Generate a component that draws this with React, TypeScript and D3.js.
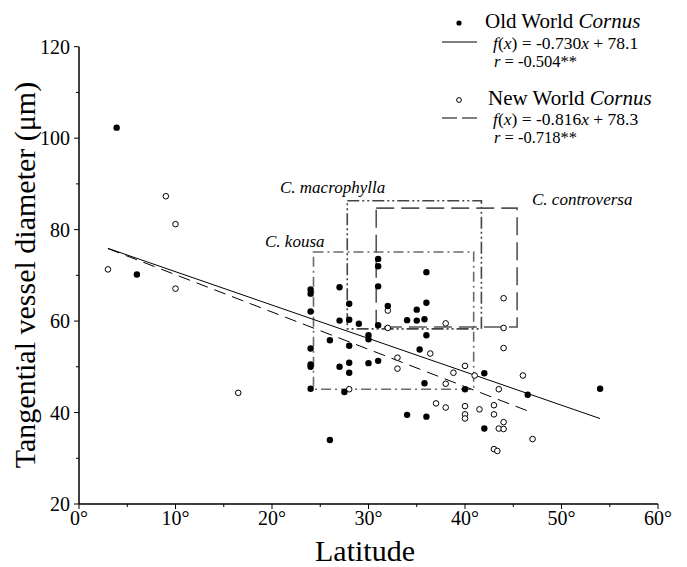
import React from "react";
import * as d3 from "d3";

// Old World Cornus (filled): [latitude, vessel diameter]
const oldLat = [3.9, 6, 24, 24, 24, 24, 24, 24, 24, 26, 26, 27, 27, 27, 27.5, 28, 28, 28, 28, 28, 29, 30, 30, 30, 31, 31, 31, 31, 31, 32, 34, 34, 35, 35, 35.3, 35.8, 35.8, 36, 36, 36, 36, 40, 42, 42, 46.5, 54];
const oldVal = [102.3, 70.2, 66.9, 66.0, 62.1, 54.0, 50.5, 50.0, 45.2, 55.8, 34.0, 67.4, 60.1, 50.0, 44.5, 63.8, 60.3, 54.6, 50.9, 48.7, 59.4, 56.9, 56.0, 50.8, 73.6, 72.0, 67.6, 59.1, 51.3, 63.3, 60.2, 39.5, 62.5, 60.1, 53.8, 60.4, 46.4, 70.7, 64.0, 56.9, 39.1, 45.1, 48.6, 36.5, 43.9, 45.2];

// New World Cornus (open)
const newLat = [3, 9, 10, 10, 16.5, 28, 32, 32, 33, 33, 36.4, 37, 38, 38, 38, 38.8, 40, 40, 40, 40, 41, 41.5, 43, 43, 43, 43.35, 43.5, 43.5, 44, 44, 44, 44, 44, 46, 47];
const newVal = [71.3, 87.3, 81.2, 67.1, 44.3, 45.1, 62.3, 58.5, 52.0, 49.6, 52.9, 42.0, 59.5, 46.3, 41.1, 48.7, 50.2, 41.4, 39.6, 38.7, 48.1, 40.7, 41.6, 39.6, 32.0, 31.6, 45.1, 36.5, 65.0, 58.5, 54.1, 37.9, 36.4, 48.1, 34.2];

// regressions
const oldFit = { slope: -0.730, intercept: 78.1, from: 3, to: 54 };
const newFit = { slope: -0.816, intercept: 78.3, from: 3, to: 47 };

// species ranges
const boxNames = ["C. kousa", "C. macrophylla", "C. controversa"];
const boxLat = [[24.3, 40.9], [27.8, 41.7], [30.8, 45.4]];
const boxVal = [[45.1, 75.1], [58.3, 86.3], [58.7, 84.7]];

const xTicks = [0, 10, 20, 30, 40, 50, 60];
const xMinor = [5, 15, 25, 35, 45, 55];
const yTicks = [20, 40, 60, 80, 100, 120];
const yMinor = [30, 50, 70, 90, 110];

const W = 687, H = 567;
const serif = "'Liberation Serif', 'DejaVu Serif', serif";

export default function App() {
  const x = d3.scaleLinear().domain([0, 60]).range([79, 658]);
  const y = d3.scaleLinear().domain([20, 120]).range([504, 46.7]);

  const boxStyles = [
    { stroke: "#6a6a6a", dash: "10,4,2,4", w: 1.6 },
    { stroke: "#444", dash: "12,3,2,3,2,3", w: 1.6 },
    { stroke: "#555", dash: "18,7", w: 1.6 },
  ];
  const boxLabelPos = [
    { lx: 265, ly: 247 },
    { lx: 280, ly: 193 },
    { lx: 532, ly: 205 },
  ];

  const fitLine = (f: typeof oldFit) =>
    d3.line<number>().x(d => x(d)).y(d => y(f.slope * d + f.intercept))([f.from, f.to]) || "";

  return (
    <svg width={W} height={H} style={{ position: "absolute", left: 0, top: 0, background: "#fff" }}>
      {boxNames.map((n, i) => (
        <g key={n}>
          <rect
            x={x(boxLat[i][0])}
            y={y(boxVal[i][1])}
            width={x(boxLat[i][1]) - x(boxLat[i][0])}
            height={y(boxVal[i][0]) - y(boxVal[i][1])}
            fill="none"
            stroke={boxStyles[i].stroke}
            strokeWidth={boxStyles[i].w}
            strokeDasharray={boxStyles[i].dash}
          />
          <text x={boxLabelPos[i].lx} y={boxLabelPos[i].ly} fontFamily={serif} fontStyle="italic" fontSize={17} fill="#000">{n}</text>
        </g>
      ))}

      <path d={fitLine(oldFit)} stroke="#000" strokeWidth={1} fill="none" />
      <path d={fitLine(newFit)} stroke="#000" strokeWidth={1} fill="none" strokeDasharray="12,7" />

      {newLat.map((lt, i) => (
        <circle key={"n" + i} cx={x(lt)} cy={y(newVal[i])} r={2.8} fill="#fff" stroke="#000" strokeWidth={1} />
      ))}
      {oldLat.map((lt, i) => (
        <circle key={"o" + i} cx={x(lt)} cy={y(oldVal[i])} r={3.2} fill="#000" />
      ))}

      <line x1={x(0)} x2={x(60)} y1={y(20)} y2={y(20)} stroke="#000" strokeWidth={1.5} />
      <line x1={x(0)} x2={x(0)} y1={y(20)} y2={y(120)} stroke="#000" strokeWidth={1.5} />
      {xTicks.map(t => (
        <g key={"xt" + t}>
          <line x1={x(t)} x2={x(t)} y1={y(20)} y2={y(20) + 5} stroke="#000" strokeWidth={1} />
          <text x={x(t)} y={525} textAnchor="middle" fontFamily={serif} fontSize={20}>{t + "°"}</text>
        </g>
      ))}
      {xMinor.map(t => (
        <line key={"xm" + t} x1={x(t)} x2={x(t)} y1={y(20)} y2={y(20) + 3} stroke="#000" strokeWidth={1} />
      ))}
      {yTicks.map(t => (
        <g key={"yt" + t}>
          <line x1={x(0) - 5} x2={x(0)} y1={y(t)} y2={y(t)} stroke="#000" strokeWidth={1} />
          <text x={x(0) - 9} y={y(t) + 7} textAnchor="end" fontFamily={serif} fontSize={20}>{t}</text>
        </g>
      ))}
      {yMinor.map(t => (
        <line key={"ym" + t} x1={x(0) - 3} x2={x(0)} y1={y(t)} y2={y(t)} stroke="#000" strokeWidth={1} />
      ))}

      <text x={365} y={561} textAnchor="middle" fontFamily={serif} fontSize={30}>Latitude</text>
      <text transform={`translate(35, 275) rotate(-90)`} textAnchor="middle" fontFamily={serif} fontSize={30}>Tangential vessel diameter (μm)</text>

      {/* legend */}
      <circle cx={459} cy={23} r={2.6} fill="#000" />
      <text x={485} y={28} fontFamily={serif} fontSize={21}>Old World <tspan fontStyle="italic">Cornus</tspan></text>
      <line x1={442} x2={477} y1={42} y2={42} stroke="#000" strokeWidth={1} />
      <text x={493} y={49} fontFamily={serif} fontSize={17.5}>
        <tspan fontStyle="italic">f</tspan>(<tspan fontStyle="italic">x</tspan>) = -0.730<tspan fontStyle="italic">x</tspan> + 78.1
      </text>
      <text x={494} y={67} fontFamily={serif} fontSize={16.5}>
        <tspan fontStyle="italic">r</tspan>  = -0.504**
      </text>

      <circle cx={459} cy={100} r={2.4} fill="#fff" stroke="#000" strokeWidth={1} />
      <text x={488} y={105} fontFamily={serif} fontSize={21}>New World <tspan fontStyle="italic">Cornus</tspan></text>
      <line x1={442} x2={477} y1={118} y2={118} stroke="#000" strokeWidth={1} strokeDasharray="15,5" />
      <text x={493} y={125} fontFamily={serif} fontSize={17.5}>
        <tspan fontStyle="italic">f</tspan>(<tspan fontStyle="italic">x</tspan>) = -0.816<tspan fontStyle="italic">x</tspan> + 78.3
      </text>
      <text x={494} y={143} fontFamily={serif} fontSize={16.5}>
        <tspan fontStyle="italic">r</tspan>  = -0.718**
      </text>
    </svg>
  );
}
